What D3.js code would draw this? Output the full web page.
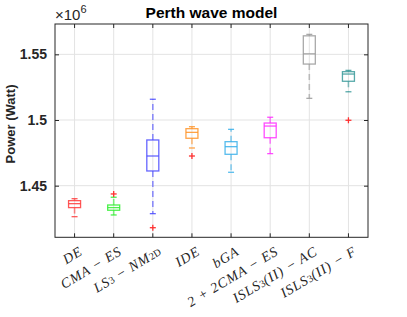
<!DOCTYPE html>
<html><head><meta charset="utf-8">
<script src="https://cdn.jsdelivr.net/npm/d3@7"></script>
<style>body{margin:0;background:#fff}svg{display:block}</style>
</head><body>
<svg id="c" width="407" height="317"></svg>
<script>
// categories (rendered as LaTeX-like italic math labels)
const categories = ["DE","CMA-ES","LS3-NM2D","IDE","bGA","2+2CMA-ES","ISLS3(II)-AC","ISLS3(II)-F"];
// label parts: [text, isSubscript]
const labelParts = [
  [["DE",0]],
  [["CMA − ES",0]],
  [["LS",0],["3",1],[" − NM",0],["2D",1]],
  [["IDE",0]],
  [["bGA",0]],
  [["2 + 2CMA − ES",0]],
  [["ISLS",0],["3",1],["(II) − AC",0]],
  [["ISLS",0],["3",1],["(II) − F",0]]
];
// box statistics (units of 1e6 W)
const whiskerLow  = [1.4264,1.4277,1.4287,1.4787,1.4602,1.4744,1.5165,1.5215];
const q1          = [1.4333,1.4313,1.4612,1.4861,1.4739,1.4865,1.5426,1.5295];
const median      = [1.4363,1.4333,1.4726,1.4906,1.4797,1.4954,1.5504,1.5350];
const q3          = [1.4386,1.4353,1.4848,1.4934,1.4835,1.4977,1.5641,1.5368];
const whiskerHigh = [1.4401,1.4412,1.5158,1.4949,1.4929,1.5021,1.5652,1.5378];
const outliers    = [[],[1.4437],[1.4180],[1.4726],[],[],[],[1.4998]];
const colors = ["#ff3b3b","#2eee2e","#4a4aff","#ff9326","#3ab0ea","#ff2eff","#9a9a9a","#3a9a9a"];
const yTicks = [1.45,1.5,1.55];

const svg = d3.select("#c");
const L=55, R=368, T=24, B=237.3;
const x = d3.scaleBand().domain(categories).range([L,R]).paddingInner(0).paddingOuter(0);
const y = d3.scaleLinear().domain([1.4107,1.5731]).range([B,T]);
const cx = c => x(c)+x.bandwidth()/2;
const axisCol="#262626";

// grid
const g = svg.append("g");
g.selectAll(".gx").data(categories).join("line")
  .attr("x1",d=>cx(d)).attr("x2",d=>cx(d)).attr("y1",T).attr("y2",B)
  .attr("stroke","#e3e3e3").attr("stroke-width",1);
g.selectAll(".gy").data(yTicks).join("line")
  .attr("x1",L).attr("x2",R).attr("y1",d=>y(d)).attr("y2",d=>y(d))
  .attr("stroke","#e3e3e3").attr("stroke-width",1);

// axes via d3 axis (inner ticks)
const fmt = d => d3.format("")(+d.toFixed(2));
const ax = svg.append("g").attr("transform",`translate(${L},0)`)
  .call(d3.axisLeft(y).tickValues(yTicks).tickSize(-4).tickPadding(8).tickFormat(fmt));
ax.select(".domain").remove();
ax.selectAll("line").attr("stroke",axisCol);
ax.selectAll("text").attr("font-family","Liberation Sans, Arial, sans-serif")
  .attr("font-weight","bold").attr("font-size",14).attr("fill","#262626");
const axr = svg.append("g").attr("transform",`translate(${R},0)`)
  .call(d3.axisRight(y).tickValues(yTicks).tickSize(-4).tickFormat(""));
axr.select(".domain").remove(); axr.selectAll("line").attr("stroke",axisCol);
const axb = svg.append("g").attr("transform",`translate(0,${B})`)
  .call(d3.axisBottom(x).tickSize(-4).tickFormat(""));
axb.select(".domain").remove(); axb.selectAll("line").attr("stroke",axisCol);
const axt = svg.append("g").attr("transform",`translate(0,${T})`)
  .call(d3.axisTop(x).tickSize(-4).tickFormat(""));
axt.select(".domain").remove(); axt.selectAll("line").attr("stroke",axisCol);
svg.append("rect").attr("x",L).attr("y",T).attr("width",R-L).attr("height",B-T)
  .attr("fill","none").attr("stroke",axisCol).attr("stroke-width",1);

// boxes
const bw = 12, capw = 6;
categories.forEach((c,i)=>{
  const gg = svg.append("g").attr("stroke",colors[i]).attr("stroke-width",1.3)
    .attr("stroke-opacity",0.85).attr("fill","none");
  const X = cx(c);
  gg.append("line").attr("x1",X).attr("x2",X).attr("y1",y(q3[i])).attr("y2",y(whiskerHigh[i]))
    .attr("stroke-dasharray","6,4").attr("stroke-opacity",0.6).attr("stroke-width",1.6);
  gg.append("line").attr("x1",X).attr("x2",X).attr("y1",y(q1[i])).attr("y2",y(whiskerLow[i]))
    .attr("stroke-dasharray","6,4").attr("stroke-opacity",0.6).attr("stroke-width",1.6);
  [whiskerHigh[i],whiskerLow[i]].forEach(v=>{
    gg.append("line").attr("x1",X-capw/2).attr("x2",X+capw/2).attr("y1",y(v)).attr("y2",y(v));
  });
  gg.append("rect").attr("x",X-bw/2).attr("y",y(q3[i])).attr("width",bw)
    .attr("height",y(q1[i])-y(q3[i]));
  gg.append("line").attr("x1",X-bw/2).attr("x2",X+bw/2).attr("y1",y(median[i])).attr("y2",y(median[i]));
  outliers[i].forEach(v=>{
    const o = svg.append("g").attr("stroke","#ff3030").attr("stroke-width",1.3);
    o.append("line").attr("x1",X-3).attr("x2",X+3).attr("y1",y(v)).attr("y2",y(v));
    o.append("line").attr("x1",X).attr("x2",X).attr("y1",y(v)-3).attr("y2",y(v)+3);
  });
});

// x labels
categories.forEach((c,i)=>{
  const t = svg.append("text")
    .attr("transform",`translate(${cx(c)+4},${B+8}) rotate(-31)`)
    .attr("text-anchor","end").attr("dominant-baseline","hanging")
    .attr("font-family","Liberation Serif, DejaVu Serif, serif")
    .attr("font-style","italic").attr("font-size",14).attr("letter-spacing",0.9)
    .attr("fill","#262626");
  let prevSub = false;
  labelParts[i].forEach(([s,sub])=>{
    const ts = t.append("tspan").text(s);
    if(sub){ ts.attr("font-size",10).attr("dy",3).attr("font-style","normal").attr("letter-spacing",0); }
    else if(prevSub){ ts.attr("dy",-3); }
    prevSub = !!sub;
  });
});

// title
svg.append("text").attr("x",(L+R)/2).attr("y",18).attr("text-anchor","middle")
  .attr("font-family","Liberation Sans, Arial, sans-serif").attr("font-weight","bold")
  .attr("font-size",15.5).attr("fill","#000").text("Perth wave model");
// exponent
const ex = svg.append("text").attr("x",55).attr("y",20)
  .attr("font-family","Liberation Sans, Arial, sans-serif").attr("font-size",15).attr("fill","#262626");
ex.append("tspan").text("×10");
ex.append("tspan").attr("dy",-7).attr("font-size",11).text("6");
// y label
svg.append("text").attr("transform",`translate(15,124) rotate(-90)`)
  .attr("text-anchor","middle").attr("font-family","Liberation Sans, Arial, sans-serif")
  .attr("font-weight","bold").attr("font-size",13).attr("fill","#262626").text("Power (Watt)");
</script>
</body></html>
